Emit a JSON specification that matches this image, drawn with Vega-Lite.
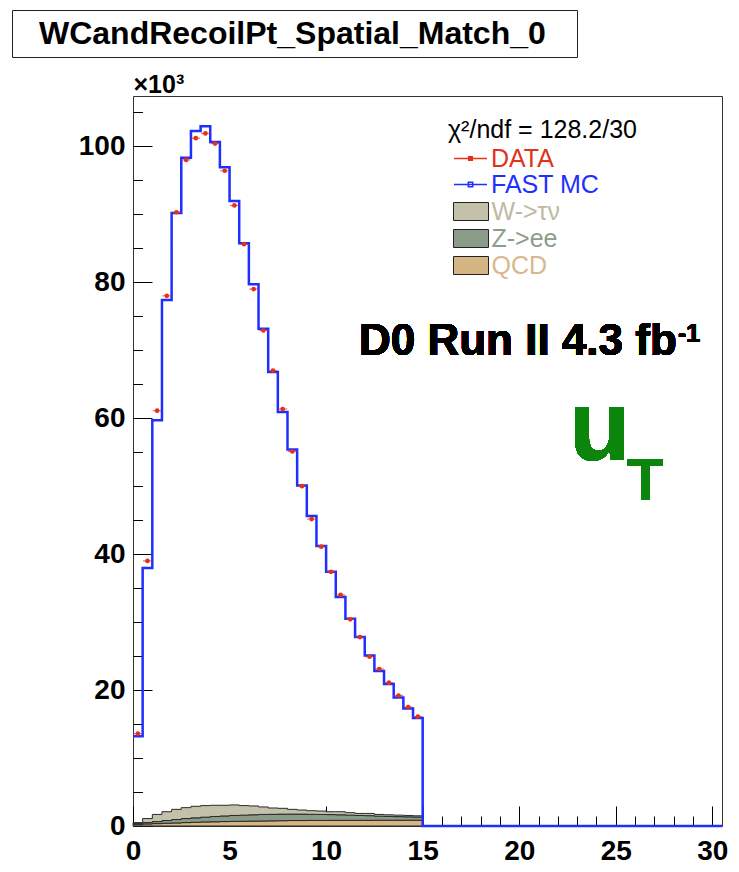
{
  "$schema": "https://vega.github.io/schema/vega-lite/v6.json",
  "width": 589,
  "height": 730,
  "autosize": {"type": "none"},
  "padding": {"left": 133, "top": 96, "right": 17, "bottom": 46},
  "background": "white",
  "config": {
    "font": "Liberation Sans",
    "view": {"stroke": "#333", "strokeWidth": 1},
    "axis": {"grid": false, "domain": false, "tickWidth": 1, "tickColor": "black", "labelColor": "black", "labelFont": "Liberation Sans", "labelFontWeight": "bold", "labelFontSize": 28, "labelFlush": false, "labelOverlap": false}
  },
  "data": {"values": [
    {"lo": 0, "c": 0.25, "data": 13600, "mc": 13200, "wtaunu": 150, "zee": 150, "qcd": 200},
    {"lo": 0.5, "c": 0.75, "data": 39000, "mc": 37950, "wtaunu": 600, "zee": 200, "qcd": 300},
    {"lo": 1, "c": 1.25, "data": 61100, "mc": 59700, "wtaunu": 1050, "zee": 300, "qcd": 350},
    {"lo": 1.5, "c": 1.75, "data": 78000, "mc": 77400, "wtaunu": 1300, "zee": 400, "qcd": 400},
    {"lo": 2, "c": 2.25, "data": 90300, "mc": 90200, "wtaunu": 1500, "zee": 500, "qcd": 450},
    {"lo": 2.5, "c": 2.75, "data": 98000, "mc": 98300, "wtaunu": 1600, "zee": 600, "qcd": 500},
    {"lo": 3, "c": 3.25, "data": 101200, "mc": 102250, "wtaunu": 1700, "zee": 650, "qcd": 550},
    {"lo": 3.5, "c": 3.75, "data": 101900, "mc": 102950, "wtaunu": 1700, "zee": 700, "qcd": 600},
    {"lo": 4, "c": 4.25, "data": 100400, "mc": 100650, "wtaunu": 1650, "zee": 780, "qcd": 620},
    {"lo": 4.5, "c": 4.75, "data": 96400, "mc": 96900, "wtaunu": 1570, "zee": 830, "qcd": 650},
    {"lo": 5, "c": 5.25, "data": 91300, "mc": 91950, "wtaunu": 1550, "zee": 870, "qcd": 680},
    {"lo": 5.5, "c": 5.75, "data": 85600, "mc": 85750, "wtaunu": 1400, "zee": 900, "qcd": 700},
    {"lo": 6, "c": 6.25, "data": 79000, "mc": 79700, "wtaunu": 1300, "zee": 930, "qcd": 720},
    {"lo": 6.5, "c": 6.75, "data": 72900, "mc": 73150, "wtaunu": 1100, "zee": 960, "qcd": 740},
    {"lo": 7, "c": 7.25, "data": 67000, "mc": 66800, "wtaunu": 930, "zee": 960, "qcd": 760},
    {"lo": 7.5, "c": 7.75, "data": 61350, "mc": 60900, "wtaunu": 850, "zee": 970, "qcd": 780},
    {"lo": 8, "c": 8.25, "data": 55100, "mc": 55400, "wtaunu": 700, "zee": 950, "qcd": 800},
    {"lo": 8.5, "c": 8.75, "data": 50000, "mc": 50100, "wtaunu": 600, "zee": 950, "qcd": 800},
    {"lo": 9, "c": 9.25, "data": 45150, "mc": 45600, "wtaunu": 530, "zee": 900, "qcd": 820},
    {"lo": 9.5, "c": 9.75, "data": 41100, "mc": 41200, "wtaunu": 500, "zee": 880, "qcd": 820},
    {"lo": 10, "c": 10.25, "data": 37400, "mc": 37400, "wtaunu": 420, "zee": 850, "qcd": 830},
    {"lo": 10.5, "c": 10.75, "data": 34000, "mc": 33700, "wtaunu": 450, "zee": 820, "qcd": 830},
    {"lo": 11, "c": 11.25, "data": 30400, "mc": 30500, "wtaunu": 360, "zee": 760, "qcd": 840},
    {"lo": 11.5, "c": 11.75, "data": 27800, "mc": 27800, "wtaunu": 300, "zee": 710, "qcd": 840},
    {"lo": 12, "c": 12.25, "data": 24900, "mc": 25100, "wtaunu": 330, "zee": 680, "qcd": 840},
    {"lo": 12.5, "c": 12.75, "data": 23100, "mc": 22800, "wtaunu": 250, "zee": 600, "qcd": 850},
    {"lo": 13, "c": 13.25, "data": 21100, "mc": 20900, "wtaunu": 230, "zee": 570, "qcd": 850},
    {"lo": 13.5, "c": 13.75, "data": 19200, "mc": 18900, "wtaunu": 220, "zee": 530, "qcd": 850},
    {"lo": 14, "c": 14.25, "data": 17500, "mc": 17300, "wtaunu": 200, "zee": 500, "qcd": 850},
    {"lo": 14.5, "c": 14.75, "data": 16100, "mc": 15900, "wtaunu": 180, "zee": 470, "qcd": 850},
    {"lo": 15, "mc": 0, "wtaunu": 0, "zee": 0, "qcd": 0},
    {"lo": 30.5, "mc": 0}
  ]},
  "layer": [
    {
      "transform": [
        {"filter": "datum.lo <= 15"},
        {"fold": ["qcd", "zee", "wtaunu"], "as": ["proc", "n"]},
        {"window": [{"op": "row_number", "as": "k"}], "groupby": ["lo"]}
      ],
      "mark": {"type": "area", "interpolate": "step-after", "stroke": "#2a2a2a", "strokeWidth": 1},
      "encoding": {
        "x": {"field": "lo", "type": "quantitative", "scale": {"domain": [0, 30.5], "nice": false, "zero": false},
          "axis": {"orient": "bottom", "title": null, "values": [0, 5, 10, 15, 20, 25, 30], "offset": -20, "tickSize": 20, "labelPadding": 11}},
        "y": {"field": "n", "type": "quantitative", "stack": "zero", "scale": {"domain": [0, 107400], "nice": false, "zero": false},
          "axis": {"orient": "left", "values": [0, 20000, 40000, 60000, 80000, 100000], "labelExpr": "datum.value / 1000",
            "offset": -19, "tickSize": 19, "labelPadding": 8,
            "title": "×10³", "titleAngle": 0, "titleX": -19, "titleY": -4, "titleAlign": "left", "titleBaseline": "alphabetic", "titleFont": "Liberation Sans", "titleFontSize": 25, "titleFontWeight": "bold", "titleColor": "black"}},
        "fill": {"field": "proc", "type": "nominal",
          "scale": {"domain": ["wtaunu", "zee", "qcd"], "range": ["#c4c1aa", "#8a9c89", "#d5b583"]},
          "legend": {"title": null, "orient": "none", "legendX": 318, "legendY": 103,
            "labelExpr": "datum.label == 'wtaunu' ? 'W->τν' : datum.label == 'zee' ? 'Z->ee' : 'QCD'",
            "labelColor": {"expr": "datum.label == 'wtaunu' ? '#bdbaa4' : datum.label == 'zee' ? '#8c9e8b' : '#d6b98c'"},
            "labelFont": "Liberation Sans", "labelFontSize": 25, "labelOffset": 8, "labelLimit": 0,
            "symbolType": "M-1.75,-0.9H1.75V0.9H-1.75Z", "symbolSize": 400, "symbolOffset": 7.5, "symbolStrokeColor": "#222", "symbolStrokeWidth": 1, "symbolOpacity": 1,
            "rowPadding": 1, "padding": 0}},
        "order": {"field": "k", "type": "quantitative", "sort": "ascending"}
      }
    },
    {
      "mark": {"type": "line", "interpolate": "step-after", "strokeWidth": 2.5},
      "encoding": {
        "x": {"field": "lo", "type": "quantitative",
          "axis": {"orient": "bottom", "title": null, "values": [1,2,3,4,6,7,8,9,11,12,13,14,16,17,18,19,21,22,23,24,26,27,28,29], "offset": -10, "tickSize": 10, "labels": false}},
        "y": {"field": "mc", "type": "quantitative",
          "axis": {"orient": "left", "title": null, "values": [5000,10000,15000,25000,30000,35000,45000,50000,55000,65000,70000,75000,85000,90000,95000,105000], "offset": -9.5, "tickSize": 9.5, "labels": false}},
        "stroke": {"datum": "FAST MC", "type": "nominal",
          "scale": {"domain": ["DATA", "FAST MC"], "range": ["#e3321b", "#1f2fff"]},
          "legend": {"title": "χ²/ndf = 128.2/30", "orient": "none", "legendX": 315, "legendY": 22,
            "titleFont": "Liberation Sans", "titleFontSize": 25, "titleFontWeight": "normal", "titleColor": "black", "titlePadding": 3, "titleLimit": 500,
            "labelFont": "Liberation Sans", "labelFontSize": 25, "labelOffset": 8, "labelLimit": 0,
            "labelColor": {"expr": "datum.label == 'DATA' ? '#e3321b' : '#1f2fff'"},
            "symbolType": {"expr": "datum.label == 'DATA' ? 'M-1.65,0H1.65M-0.18,-0.18H0.18V0.18H-0.18Z' : 'M-1.65,0H1.65M-0.22,-0.22H0.22V0.22H-0.22Z'"},
            "symbolFillColor": {"expr": "datum.label == 'DATA' ? '#e3321b' : 'transparent'"},
            "symbolSize": 400, "symbolStrokeWidth": 1.5, "symbolOffset": 10, "rowPadding": 0, "padding": 0}}
      }
    },
    {
      "transform": [{"filter": {"field": "data", "valid": true}}],
      "mark": {"type": "tick", "orient": "horizontal", "color": "#e3321b", "size": 9, "thickness": 1.2},
      "encoding": {
        "x": {"field": "c", "type": "quantitative", "axis": null},
        "y": {"field": "data", "type": "quantitative", "axis": null},
        "strokeDash": {"datum": "WCandRecoilPt_Spatial_Match_0", "type": "nominal",
          "scale": {"domain": ["WCandRecoilPt_Spatial_Match_0", "pad"], "range": [[1, 0], [1, 0]]},
          "legend": {"title": null, "orient": "none", "legendX": -121, "legendY": -86, "direction": "horizontal", "columns": 2, "columnPadding": 3,
            "labelExpr": "datum.index === 0 ? datum.label : ''",
            "labelFont": "Liberation Sans", "labelFontWeight": "bold", "labelFontSize": 32, "labelColor": "black", "labelLimit": 0, "labelOffset": -12.5,
            "symbolSize": 0, "symbolOpacity": 0, "symbolType": "circle", "symbolStrokeWidth": 0,
            "strokeColor": "#222", "fillColor": "white", "padding": 7.5}}
      }
    },
    {
      "transform": [{"filter": {"field": "data", "valid": true}}],
      "mark": {"type": "circle", "color": "#e3321b", "size": 22, "opacity": 1},
      "encoding": {
        "x": {"field": "c", "type": "quantitative", "axis": null},
        "y": {"field": "data", "type": "quantitative", "axis": null}
      }
    },
    {
      "mark": {"type": "text", "text": "D0 Run II 4.3 fb", "font": "Liberation Sans", "fontWeight": "bold", "fontSize": 44, "align": "right", "baseline": "alphabetic", "color": "black"},
      "encoding": {
        "x": {"datum": 28.16, "type": "quantitative", "axis": null},
        "y": {"datum": 69300, "type": "quantitative", "axis": null}
      }
    },
    {
      "mark": {"type": "text", "text": "-1", "font": "Liberation Sans", "fontWeight": "bold", "fontSize": 25, "align": "left", "baseline": "alphabetic", "color": "black"},
      "encoding": {
        "x": {"datum": 28.22, "type": "quantitative", "axis": null},
        "y": {"datum": 71200, "type": "quantitative", "axis": null}
      }
    },
    {
      "mark": {"type": "text", "text": "u", "font": "Liberation Sans", "fontWeight": "bold", "fontSize": 100, "align": "left", "baseline": "alphabetic", "color": "#0b850b"},
      "encoding": {
        "x": {"datum": 22.58, "type": "quantitative", "axis": null},
        "y": {"datum": 53800, "type": "quantitative", "axis": null}
      }
    },
    {
      "mark": {"type": "text", "text": "T", "font": "Liberation Sans", "fontWeight": "bold", "fontSize": 60, "align": "left", "baseline": "alphabetic", "color": "#0b850b"},
      "encoding": {
        "x": {"datum": 25.58, "type": "quantitative", "axis": null},
        "y": {"datum": 47900, "type": "quantitative", "axis": null}
      }
    }
  ],
  "resolve": {"axis": {"x": "independent", "y": "independent"}}
}
